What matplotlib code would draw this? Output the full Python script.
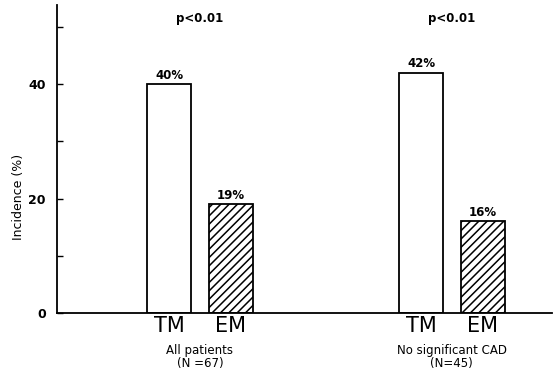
import numpy as np
import matplotlib.pyplot as plt

# data
groups = ['All patients\n(N =67)', 'No significant CAD\n(N=45)']
p_text = ['p<0.01', 'p<0.01']
bar_names = ['TM', 'EM']
tm_values = [40, 42]
em_values = [19, 16]

plt.rcParams['hatch.linewidth'] = 1.1

fig = plt.figure(figsize=(5.55, 3.77), dpi=100)
ax = fig.add_axes([57 / 555, 64 / 377, 495 / 555, 308 / 377])

centers = np.array([0, 4])
off = 0.49
w = 0.7

ax.bar(centers - off, tm_values, width=w, color='white', edgecolor='black', linewidth=1.3)
ax.bar(centers + off, em_values, width=w, color='white', edgecolor='black', linewidth=1.3,
       hatch='////')

for c, t, e in zip(centers, tm_values, em_values):
    ax.text(c - off, t + 0.4, f'{t}%', ha='center', va='bottom', fontsize=8.5, fontweight='bold')
    ax.text(c + off, e + 0.4, f'{e}%', ha='center', va='bottom', fontsize=8.5, fontweight='bold')

for c, g, p in zip(centers, groups, p_text):
    ax.text(c, 51.5, p, ha='center', va='center', fontsize=8.5, fontweight='bold')
    ax.text(c, -5.5, g, ha='center', va='top', fontsize=8.5, linespacing=0.95)

ax.set_xticks(np.concatenate([centers - off, centers + off]))
ax.set_xticklabels([bar_names[0]] * 2 + [bar_names[1]] * 2, fontsize=15)
ax.tick_params(axis='x', length=0, pad=2)

ax.set_xlim(-2.27, 5.59)
ax.set_ylim(0, 53.8)
ax.set_yticks([0, 10, 20, 30, 40, 50])
ax.set_yticklabels(['0', '', '20', '', '40', ''], fontsize=9, fontweight='bold')
ax.tick_params(axis='y', direction='in', length=4, width=1, pad=8)
ax.set_ylabel('Incidence (%)', fontsize=9)
ax.yaxis.set_label_coords(-0.064, 0.377)

ax.spines['top'].set_visible(False)
ax.spines['right'].set_visible(False)
ax.spines['left'].set_linewidth(1.3)
ax.spines['bottom'].set_linewidth(1.3)

fig.savefig('out.png', dpi=100)
